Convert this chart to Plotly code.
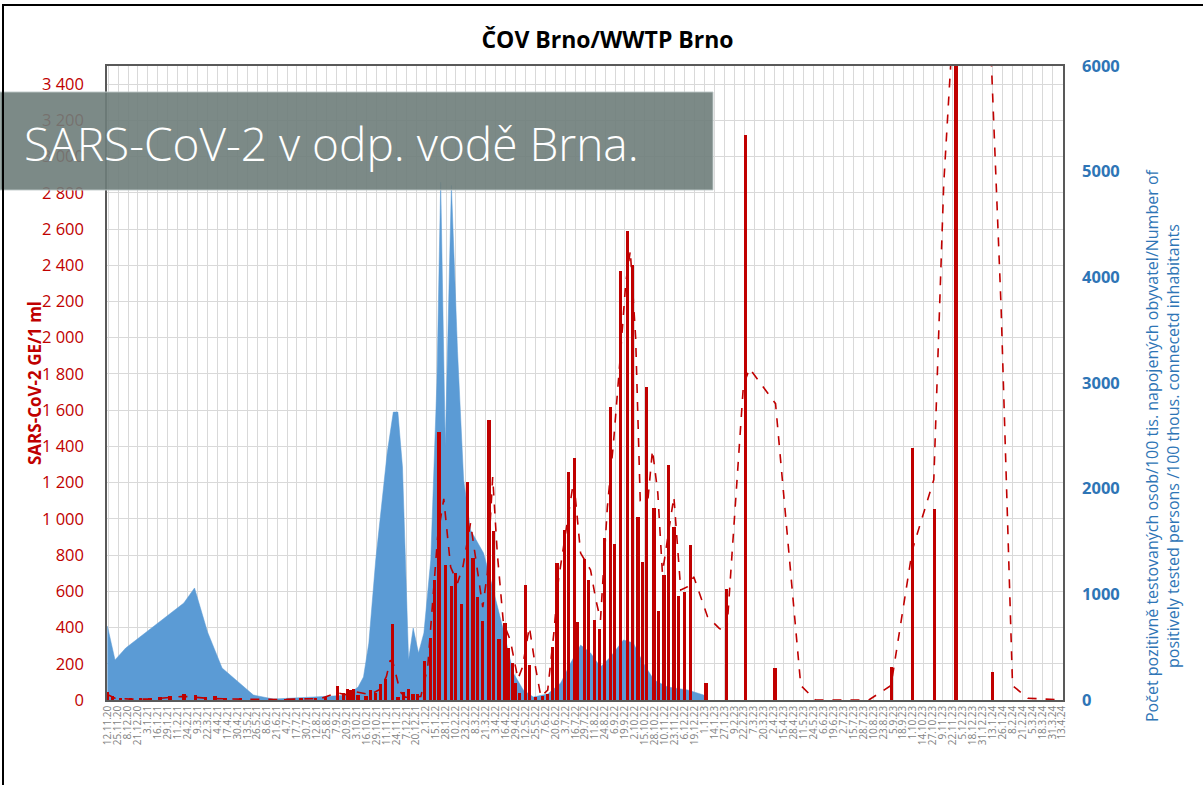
import plotly.graph_objects as go

# --- Red bars: SARS-CoV-2 GE/1 ml (left axis) ---
bar_dates = [
    "2020-11-11", "2020-11-18", "2020-11-28", "2020-12-11", "2020-12-24", "2021-01-06",
    "2021-01-19", "2021-02-01", "2021-02-19", "2021-03-06", "2021-03-19", "2021-04-01",
    "2021-04-14", "2021-05-04", "2021-05-24", "2021-06-12", "2021-07-02", "2021-07-22",
    "2021-08-10", "2021-08-23", "2021-09-08", "2021-09-16", "2021-09-21", "2021-09-25",
    "2021-09-29", "2021-10-05", "2021-10-15", "2021-10-21", "2021-10-28", "2021-11-03",
    "2021-11-10", "2021-11-19", "2021-11-26", "2021-12-03", "2021-12-10", "2021-12-16",
    "2021-12-22", "2021-12-31", "2022-01-08", "2022-01-13", "2022-01-19", "2022-01-27",
    "2022-02-04", "2022-02-09", "2022-02-17", "2022-02-25", "2022-03-04", "2022-03-10",
    "2022-03-17", "2022-03-25", "2022-03-31", "2022-04-07", "2022-04-15", "2022-04-20",
    "2022-04-25", "2022-04-29", "2022-05-04", "2022-05-12", "2022-05-17", "2022-05-25",
    "2022-06-03", "2022-06-10", "2022-06-16", "2022-06-22", "2022-07-02", "2022-07-07",
    "2022-07-15", "2022-07-19", "2022-07-28", "2022-08-02", "2022-08-10", "2022-08-17",
    "2022-08-23", "2022-08-31", "2022-09-05", "2022-09-13", "2022-09-22", "2022-09-29",
    "2022-10-06", "2022-10-12", "2022-10-17", "2022-10-27", "2022-11-02", "2022-11-09",
    "2022-11-15", "2022-11-22", "2022-11-28", "2022-12-06", "2022-12-14", "2023-01-03",
    "2023-01-30", "2023-02-24", "2023-04-03", "2023-09-03", "2023-09-30", "2023-10-29",
    "2023-11-26", "2024-01-13",
]
bar_values = [
    46, 20, 10, 8, 10, 12,
    15, 20, 35, 28, 15, 20,
    10, 8, 5, 5, 5, 8,
    10, 15, 77, 40, 60, 55,
    60, 30, 20, 55, 40, 88,
    116, 419, 16, 45, 60, 35,
    35, 215, 340, 663, 1480, 745,
    630, 701, 530, 1203, 784, 569,
    436, 1548, 933, 337, 425, 287,
    204, 94, 39, 635, 193, 17,
    22, 33, 293, 756, 938, 1259,
    1336, 430, 778, 663, 442, 393,
    894, 1618, 861, 2370, 2590, 2400,
    1010, 762, 1730, 1060, 491, 690,
    1297, 955, 574, 596, 856, 94,
    614, 3120, 175, 182, 1391, 1057,
    3700, 152,
]

# --- Red dashed trend line (left axis) ---
trend_dates = [
    "2020-11-11", "2020-11-21", "2020-12-11", "2021-01-06", "2021-02-19", "2021-03-06",
    "2021-03-26", "2021-05-04", "2021-06-25", "2021-08-17", "2021-09-08", "2021-09-18",
    "2021-10-02", "2021-10-21", "2021-11-03", "2021-11-11", "2021-11-16", "2021-11-20",
    "2021-11-26", "2021-11-29", "2021-12-06", "2021-12-26", "2022-01-04", "2022-01-10",
    "2022-01-17", "2022-01-25", "2022-02-03", "2022-02-12", "2022-02-19", "2022-03-01",
    "2022-03-10", "2022-03-17", "2022-03-23", "2022-03-30", "2022-04-05", "2022-04-13",
    "2022-04-22", "2022-05-02", "2022-05-08", "2022-05-17", "2022-05-25", "2022-06-01",
    "2022-06-10", "2022-06-18", "2022-06-24", "2022-07-06", "2022-07-14", "2022-07-23",
    "2022-08-05", "2022-08-12", "2022-08-18", "2022-08-27", "2022-09-04", "2022-09-13",
    "2022-09-20", "2022-09-26", "2022-10-03", "2022-10-09", "2022-10-19", "2022-10-25",
    "2022-11-01", "2022-11-07", "2022-11-14", "2022-11-22", "2022-12-01", "2022-12-10",
    "2022-12-18", "2023-01-05", "2023-01-20", "2023-01-30", "2023-02-21", "2023-03-01",
    "2023-04-04", "2023-05-07", "2023-05-26", "2023-08-04", "2023-09-02", "2023-09-30",
    "2023-10-28", "2023-11-10", "2023-11-19", "2023-12-09", "2024-01-04", "2024-01-11",
    "2024-01-24", "2024-02-08", "2024-02-28", "2024-04-13",
]
trend_values = [
    30, 10, 5, 5, 20, 15,
    8, 5, 3, 8, 40, 30,
    45, 30, 60, 130, 220, 200,
    100, 45, 15, 20, 182, 500,
    900, 1110, 734, 646, 734, 977,
    718, 513, 700, 1231, 811, 425,
    331, 116, 182, 403, 182, 18,
    55, 370, 662, 994, 1214, 811,
    718, 552, 442, 1066, 1419, 1900,
    2300, 2480, 2000, 1100, 1104, 1380,
    1142, 700, 900, 1122, 607, 626,
    680, 460, 397, 364, 1739, 1830,
    1636, 80, 0, 0, 80, 830,
    1216, 2850, 3500, 4500, 4500, 3550,
    2170, 80, 10, 0,
]

# --- Blue area: positively tested persons / 100k (right axis) ---
cases_dates = [
    "2020-11-11", "2020-11-21", "2020-12-05", "2021-02-19", "2021-03-05", "2021-03-22",
    "2021-04-10", "2021-05-21", "2021-06-16", "2021-07-22", "2021-09-03", "2021-09-21",
    "2021-10-05", "2021-10-12", "2021-10-19", "2021-10-28", "2021-11-12", "2021-11-20",
    "2021-11-26", "2021-12-02", "2021-12-10", "2021-12-16", "2021-12-23", "2021-12-30",
    "2022-01-08", "2022-01-16", "2022-01-21", "2022-01-27", "2022-02-04", "2022-02-12",
    "2022-02-20", "2022-03-01", "2022-03-10", "2022-03-18", "2022-03-27", "2022-04-05",
    "2022-04-13", "2022-04-26", "2022-05-09", "2022-05-22", "2022-06-10", "2022-06-27",
    "2022-07-10", "2022-07-23", "2022-08-05", "2022-08-18", "2022-08-31", "2022-09-17",
    "2022-09-30", "2022-10-13", "2022-10-27", "2022-11-14", "2022-12-10", "2022-12-31",
    "2023-01-04",
]
cases_values = [
    700, 379, 492, 918, 1060, 644,
    303, 47, 9, 20, 38, 47,
    123, 218, 539, 1325, 2337, 2725,
    2725, 2205, 379, 681, 445, 634,
    1325, 3000, 4900, 2400, 4870, 3300,
    2082, 1609, 1486, 1391, 1150, 900,
    662, 255, 95, 28, 57, 161,
    350, 520, 445, 312, 407, 568,
    539, 350, 189, 123, 95, 47,
    0,
]

# --- Axis / text content ---
title_text = "ČOV Brno/WWTP Brno"
left_title = "SARS-CoV-2 GE/1 ml"
right_title = ("Počet pozitivně testovaných osob/100 tis. napojených obyvatel/Number of<br>"
               "positively tested persons /100 thous. connecetd inhabitants")
banner_text = "SARS-CoV-2 v odp. vodě Brna."

DAY = 86400000
RED = "#C00000"
BLUE = "#5B9BD5"
BLUE_TXT = "#2E75B6"
GRID = "#D9D9D9"

fig = go.Figure()
fig.add_trace(go.Scatter(
    x=cases_dates, y=cases_values, yaxis="y", mode="lines",
    fill="tozeroy", fillcolor=BLUE, line=dict(color=BLUE, width=0.5),
    showlegend=False, hoverinfo="skip"))
fig.add_trace(go.Bar(
    x=bar_dates, y=bar_values, yaxis="y2", width=4.5 * DAY,
    marker=dict(color=RED, line=dict(width=0)), showlegend=False))
fig.add_trace(go.Scatter(
    x=trend_dates, y=trend_values, yaxis="y2", mode="lines",
    line=dict(color=RED, width=1.6, dash="dash"), showlegend=False))

L, R, T, B = 107, 140, 66, 85
W, H = 1203, 785
PW, PH = W - L - R, H - T - B


def px(xp):
    return (xp - L) / PW


def py(yp):
    return (H - B - yp) / PH


fig.update_layout(
    width=W, height=H,
    margin=dict(l=L, r=R, t=T, b=B),
    paper_bgcolor="white", plot_bgcolor="white",
    separators=", ",
    font=dict(family="Open Sans, sans-serif"),
    title=dict(text="<b>" + title_text + "</b>", x=0.505, xref="container",
               y=1 - 40 / H, yref="container", xanchor="center", yanchor="middle",
               font=dict(size=23, color="black")),
    bargap=0,
    xaxis=dict(
        type="date", range=["2020-11-10 12:00", "2024-04-14"],
        tickmode="linear", tick0="2020-11-12", dtick=13 * DAY,
        tickformat="%-d.%-m.%y", tickangle=-90,
        tickfont=dict(size=10, color="#7F7F7F"),
        showgrid=True, gridcolor=GRID, gridwidth=1,
        showline=True, linecolor="#595959", linewidth=1.5, mirror=True,
        ticks="", zeroline=False, automargin=False),
    yaxis=dict(
        side="right", range=[0, 6000], tickmode="linear", tick0=0, dtick=1000,
        tickformat="d", showgrid=False, zeroline=False,
        tickfont=dict(size=16.5, color=BLUE_TXT, weight="bold"),
        ticklabelstandoff=14, automargin=False,
        showline=True, linecolor="#595959", linewidth=1.5),
    yaxis2=dict(
        overlaying="y", side="left", range=[0, 3500], tickmode="linear",
        tick0=0, dtick=200, separatethousands=True,
        showgrid=True, gridcolor=GRID, gridwidth=1, zeroline=False,
        tickfont=dict(size=16.5, color=RED), ticklabelstandoff=18, automargin=False,
        showline=True, linecolor="#595959", linewidth=1.5),
    annotations=[
        dict(text="<b>" + left_title + "</b>", xref="paper", yref="paper",
             x=px(34), y=0.5, textangle=-90, showarrow=False,
             font=dict(size=17, color=RED), xanchor="center", yanchor="middle"),
        dict(text=right_title, xref="paper", yref="paper",
             x=px(1162), y=py(445), textangle=-90, showarrow=False,
             font=dict(size=16, color=BLUE_TXT), xanchor="center", yanchor="middle"),
        dict(text=banner_text, xref="paper", yref="paper",
             x=px(22), y=py(143), showarrow=False, xanchor="left", yanchor="middle",
             font=dict(size=46, color="white", weight=300)),
    ],
    shapes=[
        dict(type="rect", xref="paper", yref="paper",
             x0=px(0), x1=px(713), y0=py(190), y1=py(92),
             fillcolor="rgba(110,125,122,0.9)",
             line=dict(color="rgba(190,200,200,0.9)", width=1), layer="above"),
        dict(type="rect", xref="paper", yref="paper",
             x0=px(3), x1=px(1215), y0=py(800), y1=py(5),
             fillcolor="rgba(0,0,0,0)", line=dict(color="black", width=2),
             layer="above"),
    ],
)

fig.write_html(
    "out.html",
    config={"displayModeBar": False},
    post_script="document.body.style.margin='0';document.body.style.overflow='hidden';",
)
